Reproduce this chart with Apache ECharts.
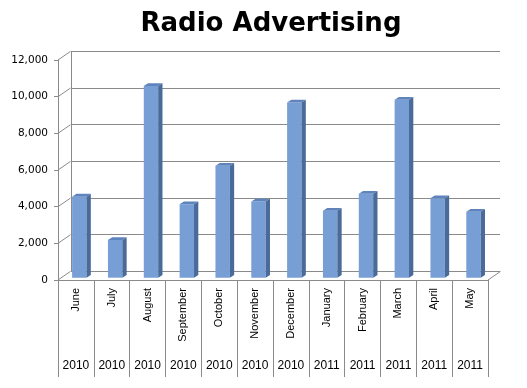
<!DOCTYPE html>
<html>
<head>
<meta charset="utf-8">
<script src="https://cdn.jsdelivr.net/npm/echarts@6/dist/echarts.min.js"></script>
<style>
html,body{margin:0;padding:0;background:#fff;}
#chart{width:527px;height:388px;}
</style>
</head>
<body>
<div id="chart"></div>
<script>
// ---- data ----
var months = ['June','July','August','September','October','November','December','January','February','March','April','May'];
var years = ['2010','2010','2010','2010','2010','2010','2010','2011','2011','2011','2011','2011'];
var values = [4420, 2060, 10450, 4000, 6100, 4150, 9550, 3650, 4580, 9700, 4330, 3600];
var yTicks = [0, 2000, 4000, 6000, 8000, 10000, 12000];
var titleText = 'Radio Advertising';

// ---- style ----
var DX = 12.5, DY = -8.6;          // depth offset of the back wall
var LINE = '#8a8a8a';
var FRONT = '#779fd6', TOP = '#5f83bc', SIDE = '#4a6a99';

var chart = echarts.init(document.getElementById('chart'), null, {renderer: 'canvas'});

function fmt(v) { return echarts.format.addCommas(v); }

var option = {
  animation: false,
  backgroundColor: '#ffffff',
  title: {
    text: titleText,
    left: 266, top: 6, textAlign: 'center',
    textStyle: {fontFamily: 'DejaVu Sans', fontWeight: 'bold', fontSize: 26, color: '#000'}
  },
  grid: [
    {left: 58, right: 39, top: 60, bottom: 108},            // front plane
    {left: 71, right: 27, top: 51.4, bottom: 116.6}         // back wall
  ],
  xAxis: [
    {
      type: 'category', gridIndex: 0, data: months, boundaryGap: true,
      axisLine: {show: true, lineStyle: {color: LINE, width: 1}},
      axisTick: {show: true, interval: 0, length: 97, lineStyle: {color: LINE}},
      axisLabel: {interval: 0, rotate: 90, margin: 8, fontFamily: 'Liberation Sans', fontSize: 11, color: '#000'},
      splitLine: {show: false}
    },
    {
      type: 'category', gridIndex: 0, data: years, position: 'bottom', offset: 78,
      axisLine: {show: false}, axisTick: {show: false},
      axisLabel: {interval: 0, margin: 2, fontFamily: 'Liberation Sans', fontSize: 12, color: '#000'}
    },
    {
      type: 'category', gridIndex: 1, data: months, show: false
    }
  ],
  yAxis: [
    {
      type: 'value', gridIndex: 0, min: 0, max: 12000, interval: 2000,
      axisLine: {show: true, lineStyle: {color: LINE}},
      axisTick: {show: true, length: 4, lineStyle: {color: LINE}},
      axisLabel: {margin: 10, fontFamily: 'DejaVu Sans', fontSize: 10.5, color: '#000', formatter: fmt},
      splitLine: {show: false}
    },
    {
      type: 'value', gridIndex: 1, min: 0, max: 12000, interval: 2000,
      axisLine: {show: true, lineStyle: {color: LINE}},
      axisTick: {show: false}, axisLabel: {show: false},
      splitLine: {show: true, lineStyle: {color: LINE, width: 1}}
    }
  ],
  series: [
    {
      // left wall / floor connectors
      type: 'custom', xAxisIndex: 0, yAxisIndex: 0, z: 1, silent: true,
      data: yTicks.map(function (v) { return [0, v]; }).concat([[months.length - 1, 0]]),
      renderItem: function (params, api) {
        var cs = params.coordSys;
        var p = api.coord([api.value(0), api.value(1)]);
        var x0 = (params.dataIndex === yTicks.length) ? cs.x + cs.width : cs.x;
        return {
          type: 'line',
          shape: {x1: x0, y1: p[1], x2: x0 + DX, y2: p[1] + DY},
          style: {stroke: LINE, lineWidth: 1}
        };
      }
    },
    {
      // 3D bars
      type: 'custom', xAxisIndex: 0, yAxisIndex: 0, z: 3,
      data: values.map(function (v, i) { return [i, v]; }),
      renderItem: function (params, api) {
        var c0 = api.coord([api.value(0), 0]);
        var c1 = api.coord([api.value(0), api.value(1)]);
        var w = 14.4, dx = 4.3, dy = -2.8, sx = 3.4, sy = -2.3;
        var xl = c0[0] + sx - w / 2, xr = xl + w;
        var yt = c1[1] + sy, yb = c0[1] + sy;
        return {
          type: 'group',
          children: [
            {type: 'rect', shape: {x: xl, y: yt, width: w, height: yb - yt}, style: {fill: FRONT}},
            {type: 'polygon', shape: {points: [[xl, yt], [xr, yt], [xr + dx, yt + dy], [xl + dx, yt + dy]]}, style: {fill: TOP}},
            {type: 'polygon', shape: {points: [[xr, yt], [xr + dx, yt + dy], [xr + dx, yb + dy], [xr, yb]]}, style: {fill: SIDE}}
          ]
        };
      }
    }
  ]
};
chart.setOption(option);
</script>
</body>
</html>
